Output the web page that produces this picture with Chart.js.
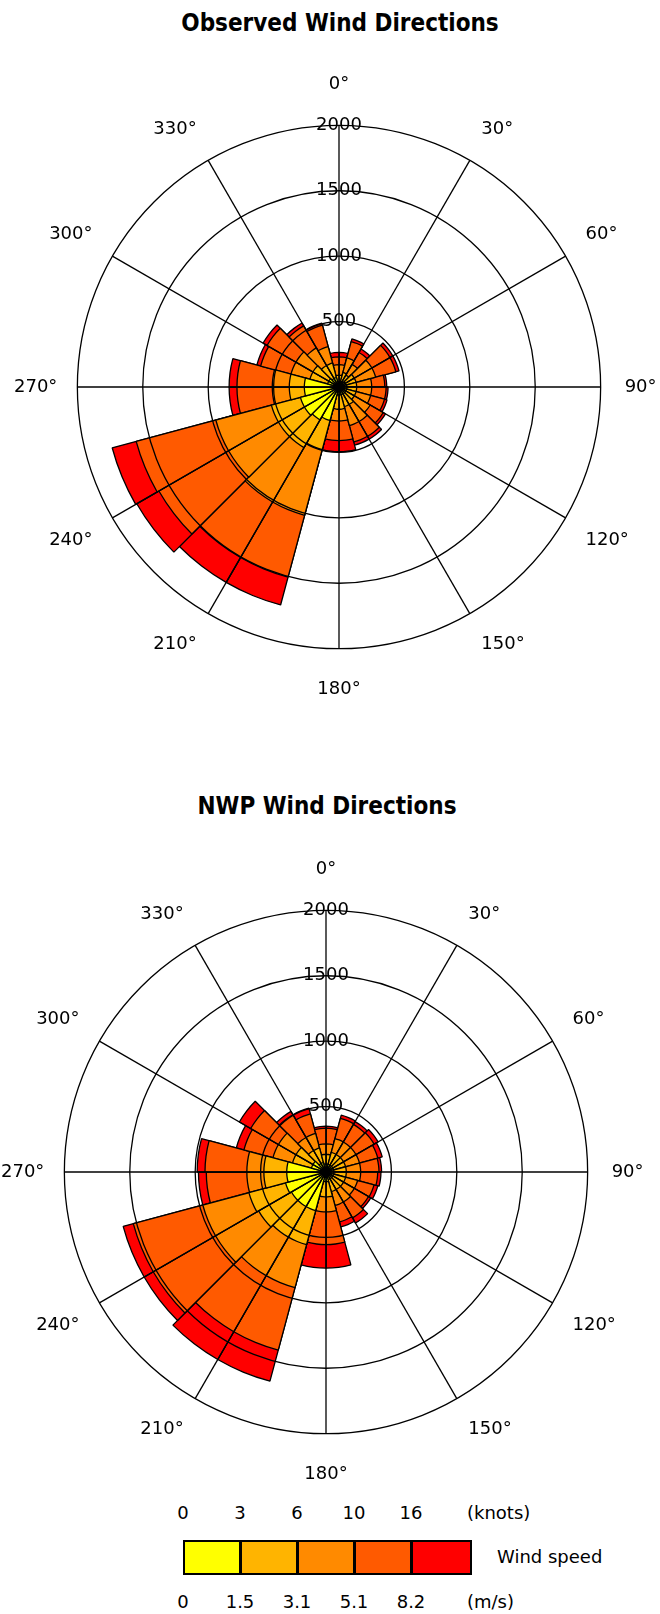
<!DOCTYPE html>
<html>
<head>
<meta charset="utf-8">
<script src="https://cdn.jsdelivr.net/npm/chart.js@4.4.1/dist/chart.umd.min.js"></script>
<style>
  html, body { margin: 0; padding: 0; background: #fff; overflow: hidden; }
  #page { position: relative; width: 660px; height: 1614px; overflow: hidden; font-family: 'DejaVu Sans', sans-serif; color: #000; }
  .title { position: absolute; transform: translateX(-50%); white-space: nowrap;
           font-family: 'DejaVu Sans Condensed', 'DejaVu Sans', sans-serif; font-stretch: condensed;
           font-weight: bold; font-size: 24px; line-height: 28px; }
  canvas { position: absolute; }
  .lab { position: absolute; font-size: 18px; line-height: 22px; white-space: nowrap; }
  .mid { transform: translateX(-50%); }
  #bar { position: absolute; left: 183px; top: 1540px; height: 35px; display: flex; border: 2px solid #000; box-sizing: border-box; }
  #bar div { height: 100%; box-sizing: border-box; border-right: 3px solid #000; }
  #bar div:last-child { border-right: none; }
</style>
</head>
<body>
<div id="page">
  <div class="title" style="left:340px; top:9px">Observed Wind Directions</div>
  <canvas id="obsChart" width="650" height="650" style="left:11px; top:63px"></canvas>

  <div class="title" style="left:327px; top:792px">NWP Wind Directions</div>
  <canvas id="nwpChart" width="650" height="650" style="left:-2px; top:848px"></canvas>

  <div id="legend"></div>
</div>

<script>
// Richtungsbeschriftung (alle 30°) und Sektoren zu 15°
const directionLabels = ['0°', '30°', '60°', '90°', '120°', '150°', '180°', '210°', '240°', '270°', '300°', '330°'];
const sectorLabels = [];
for (let a = 0; a < 360; a += 15) sectorLabels.push(a + '-' + (a + 15) + '°');

// Geschwindigkeitsklassen
const knotsTicks = ['0', '3', '6', '10', '16'];
const msTicks = ['0', '1.5', '3.1', '5.1', '8.2'];
const speedLabels = ['0-1.5 m/s', '1.5-3.1 m/s', '3.1-5.1 m/s', '5.1-8.2 m/s', '> 8.2 m/s'];
const binColors = ['#FFFF00', '#FFB400', '#FF8A00', '#FF5A00', '#FF0000'];

// Beobachtet: kumulierte Anzahl bis zur jeweiligen Geschwindigkeit, Sektor k = 15k..15k+15°
const obsTo1_5 = [40, 45, 45, 55, 55, 60, 60, 60, 60, 60, 60, 60, 60, 265, 290, 305, 305, 265, 265, 90, 90, 75, 75, 40];
const obsTo3_1 = [90, 115, 105, 135, 135, 135, 135, 135, 135, 155, 155, 170, 170, 495, 535, 535, 535, 380, 380, 230, 230, 190, 190, 90];
const obsTo5_1 = [170, 230, 200, 290, 290, 250, 250, 250, 275, 305, 305, 260, 260, 1015, 1015, 975, 975, 510, 510, 380, 380, 345, 320, 170];
const obsTo8_2 = [230, 360, 305, 450, 450, 350, 360, 360, 390, 435, 435, 410, 410, 1505, 1505, 1590, 1605, 780, 780, 620, 635, 540, 490, 230];
const obsAll   = [265, 380, 335, 475, 475, 365, 375, 380, 410, 460, 460, 495, 495, 1725, 1725, 1785, 1795, 840, 840, 650, 670, 565, 505, 265];

// NWP-Modell
const nwpTo1_5 = [60, 60, 60, 60, 60, 60, 60, 60, 60, 60, 60, 75, 75, 305, 305, 305, 320, 300, 300, 115, 115, 75, 75, 60];
const nwpTo3_1 = [135, 155, 155, 155, 155, 155, 155, 155, 155, 155, 155, 190, 190, 575, 575, 595, 610, 475, 475, 265, 265, 190, 190, 135];
const nwpTo5_1 = [215, 265, 265, 265, 265, 265, 265, 250, 250, 265, 265, 305, 305, 915, 915, 975, 975, 605, 605, 420, 420, 305, 305, 215];
const nwpTo8_2 = [335, 425, 420, 425, 410, 405, 395, 380, 375, 405, 395, 555, 555, 1410, 1410, 1525, 1525, 915, 925, 650, 665, 505, 460, 335];
const nwpAll   = [350, 450, 445, 460, 445, 425, 420, 410, 395, 450, 435, 735, 735, 1655, 1655, 1605, 1605, 975, 985, 710, 765, 535, 505, 350];

const labelFont = { family: 'DejaVu Sans', size: 18 };

function pointPadding(ctx) {
    if (ctx.index === 0 || ctx.index === 6) return 19;
    if (ctx.index === 3) return 13;
    if (ctx.index === 9) return 9;
    return 12;
}

// Windrose: Datensatz 0 (kleinste Werte) wird zuletzt gezeichnet und liegt oben
function drawRose(canvasId, series) {
    new Chart(document.getElementById(canvasId), {
        type: 'polarArea',
        data: {
            labels: sectorLabels,
            datasets: series.map((values, i) => ({
                label: speedLabels[i],
                data: values,
                backgroundColor: binColors[i],
                borderColor: '#000',
                borderWidth: 1.3
            }))
        },
        options: {
            responsive: false,
            animation: false,
            events: [],
            layout: { padding: 0 },
            plugins: {
                legend: { display: false },
                tooltip: { enabled: false }
            },
            scales: {
                r: {
                    z: 1,
                    min: 0,
                    max: 2000,
                    labels: directionLabels,
                    ticks: {
                        z: 1,
                        stepSize: 500,
                        showLabelBackdrop: false,
                        color: '#000',
                        font: labelFont,
                        callback: v => String(v)
                    },
                    grid: { z: 1, circular: true, color: '#000', lineWidth: 1.3 },
                    angleLines: { display: true, color: '#000', lineWidth: 1.3 },
                    pointLabels: { display: true, color: '#000', font: labelFont, padding: pointPadding }
                }
            }
        }
    });
}

drawRose('obsChart', [obsTo1_5, obsTo3_1, obsTo5_1, obsTo8_2, obsAll]);
drawRose('nwpChart', [nwpTo1_5, nwpTo3_1, nwpTo5_1, nwpTo8_2, nwpAll]);

// Legende
const legend = document.getElementById('legend');
const boxW = 57;
const barLeft = 183;
function addLabel(text, x, y, centered) {
    const d = document.createElement('div');
    d.className = 'lab' + (centered ? ' mid' : '');
    d.style.left = x + 'px';
    d.style.top = y + 'px';
    d.textContent = text;
    legend.appendChild(d);
}
knotsTicks.forEach((t, i) => addLabel(t, barLeft + i * boxW, 1502, true));
addLabel('(knots)', 467, 1502, false);
msTicks.forEach((t, i) => addLabel(t, barLeft + i * boxW, 1591, true));
addLabel('(m/s)', 467, 1591, false);
addLabel('Wind speed', 497, 1546, false);

const bar = document.createElement('div');
bar.id = 'bar';
binColors.forEach(c => {
    const b = document.createElement('div');
    b.style.width = boxW + 'px';
    b.style.background = c;
    bar.appendChild(b);
});
legend.appendChild(bar);
</script>
</body>
</html>
